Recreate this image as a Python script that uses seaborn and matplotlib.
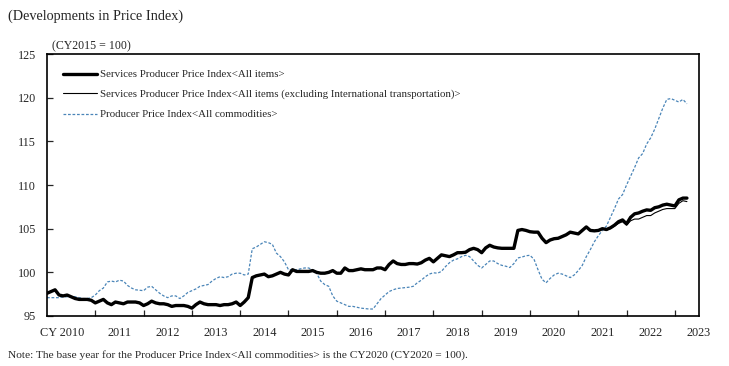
import numpy as np
import pandas as pd
import matplotlib
matplotlib.use("Agg")
import matplotlib.pyplot as plt
import seaborn as sns

# ---------------- data (monthly, Jan 2010 - Apr 2023) ----------------
years = ["CY 2010", "2011", "2012", "2013", "2014", "2015", "2016", "2017",
         "2018", "2019", "2020", "2021", "2022", "2023"]
yticks = [95, 100, 105, 110, 115, 120, 125]

sppi_all = [
    97.6, 97.8, 98.0, 97.4, 97.3, 97.4, 97.2, 97.0, 96.9, 96.9, 96.9, 96.8,
    96.5, 96.7, 96.9, 96.5, 96.3, 96.6, 96.5, 96.4, 96.6, 96.6, 96.6, 96.5,
    96.2, 96.4, 96.7, 96.5, 96.4, 96.4, 96.3, 96.1, 96.2, 96.2, 96.2, 96.1,
    95.9, 96.3, 96.6, 96.4, 96.3, 96.3, 96.3, 96.2, 96.3, 96.3, 96.4, 96.6,
    96.2, 96.6, 97.1, 99.4, 99.6, 99.7, 99.8, 99.5, 99.6, 99.8, 100.0, 99.8,
    99.7, 100.3, 100.1, 100.1, 100.1, 100.1, 100.2, 100.0, 99.9, 99.9, 100.0, 100.2,
    99.9, 99.9, 100.5, 100.2, 100.2, 100.3, 100.4, 100.3, 100.3, 100.3, 100.5, 100.5,
    100.3, 100.9, 101.3, 101.0, 100.9, 100.9, 101.0, 101.0, 100.95, 101.1, 101.4, 101.6,
    101.2, 101.6, 102.0, 101.9, 101.8, 102.0, 102.25, 102.25, 102.3, 102.6, 102.75, 102.6,
    102.25, 102.8, 103.1, 102.9, 102.8, 102.75, 102.75, 102.75, 102.75, 104.8, 104.9, 104.8,
    104.65, 104.6, 104.6, 103.9, 103.4, 103.7, 103.85, 103.9, 104.1, 104.3, 104.6, 104.5,
    104.4, 104.8, 105.2, 104.8, 104.75, 104.8, 105.0, 104.9, 105.1, 105.4, 105.8, 106.0,
    105.55, 106.3, 106.7, 106.8, 107.0, 107.15, 107.1, 107.4, 107.5, 107.7, 107.8, 107.7,
    107.6, 108.3, 108.5, 108.5,
]

sppi_excl = [
    97.6, 97.8, 98.0, 97.4, 97.3, 97.4, 97.2, 97.0, 96.9, 96.9, 96.9, 96.8,
    96.5, 96.7, 96.9, 96.5, 96.3, 96.6, 96.5, 96.4, 96.6, 96.6, 96.6, 96.5,
    96.2, 96.4, 96.7, 96.5, 96.4, 96.4, 96.3, 96.1, 96.2, 96.2, 96.2, 96.1,
    95.9, 96.3, 96.6, 96.4, 96.3, 96.3, 96.3, 96.2, 96.3, 96.3, 96.4, 96.6,
    96.2, 96.6, 97.1, 99.4, 99.6, 99.7, 99.8, 99.5, 99.6, 99.8, 100.0, 99.8,
    99.7, 100.3, 100.1, 100.1, 100.1, 100.1, 100.2, 100.0, 99.9, 99.9, 100.0, 100.2,
    99.9, 99.9, 100.5, 100.2, 100.2, 100.3, 100.4, 100.3, 100.3, 100.3, 100.5, 100.5,
    100.3, 100.9, 101.3, 101.0, 100.9, 100.9, 101.0, 101.0, 100.95, 101.1, 101.4, 101.6,
    101.2, 101.6, 102.0, 101.9, 101.8, 102.0, 102.25, 102.25, 102.3, 102.6, 102.75, 102.6,
    102.25, 102.8, 103.1, 102.9, 102.8, 102.75, 102.75, 102.75, 102.75, 104.8, 104.9, 104.8,
    104.65, 104.6, 104.6, 103.9, 103.4, 103.7, 103.85, 103.9, 104.1, 104.3, 104.6, 104.5,
    104.4, 104.8, 105.2, 104.8, 104.75, 104.8, 105.0, 104.85, 105.0, 105.3, 105.6, 105.8,
    105.4, 105.9, 106.1, 106.1, 106.3, 106.5, 106.5, 106.8, 107.0, 107.2, 107.3, 107.3,
    107.3, 107.9, 108.2, 108.1,
]

ppi_all = [
    97.1, 97.1, 97.1, 97.1, 97.2, 97.2, 97.2, 97.2, 97.1, 97.0, 97.0, 97.1,
    97.4, 97.9, 98.2, 98.9, 99.0, 98.9, 99.1, 99.0, 98.5, 98.2, 98.0, 97.95,
    97.9, 98.3, 98.4, 98.0, 97.6, 97.3, 97.1, 97.3, 97.3, 97.0, 97.3, 97.7,
    97.9, 98.1, 98.4, 98.5, 98.6, 99.0, 99.3, 99.5, 99.4, 99.5, 99.8, 99.9,
    99.9, 99.7, 99.8, 102.7, 102.9, 103.2, 103.5, 103.4, 103.2, 102.2, 101.8, 101.2,
    100.3, 100.3, 100.3, 100.4, 100.5, 100.5, 100.3, 99.9, 99.0, 98.6, 98.4, 97.3,
    96.7, 96.5, 96.3, 96.1, 96.1, 96.0, 95.9, 95.85, 95.8, 95.8, 96.4, 97.0,
    97.4, 97.8, 98.0, 98.15, 98.2, 98.25, 98.3, 98.4, 98.8, 99.1, 99.5, 99.8,
    99.95, 99.9, 100.1, 100.65, 101.1, 101.4, 101.55, 101.8, 101.95, 101.8, 101.3, 100.8,
    100.5, 100.9, 101.3, 101.3, 101.0, 100.8, 100.7, 100.55, 101.0, 101.65, 101.75, 101.9,
    101.95, 101.5, 100.3, 99.2, 98.8, 99.3, 99.7, 99.9, 99.8, 99.6, 99.4, 99.7,
    100.2, 100.8, 101.8, 102.6, 103.5, 104.2, 104.8, 105.3, 106.3, 107.3, 108.4, 108.9,
    110.0, 111.0, 112.0, 113.1, 113.6, 114.7, 115.4, 116.4, 117.6, 118.8, 119.8, 119.9,
    119.7, 119.5, 119.8, 119.3,
]

labels = [
    "Services Producer Price Index<All items>",
    "Services Producer Price Index<All items (excluding International transportation)>",
    "Producer Price Index<All commodities>",
]

# ---------------- figure ----------------
sns.set_style("ticks")
plt.rcParams["font.family"] = ["Liberation Serif", "DejaVu Serif"]

fig = plt.figure(figsize=(7.29, 3.66), dpi=100)
ax = fig.add_axes([47 / 729, 1 - 316 / 366, 652 / 729, 262 / 366])

month = np.arange(len(sppi_all))
df = pd.DataFrame({"month": month, "sppi": sppi_all, "excl": sppi_excl, "ppi": ppi_all})

sns.lineplot(data=df, x="month", y="ppi", ax=ax, color="#4a85b8", lw=0.9,
             linestyle=(0, (2.2, 1.4)), label=labels[2], zorder=2)
sns.lineplot(data=df, x="month", y="sppi", ax=ax, color="black", lw=2.4,
             label=labels[0], zorder=3)
sns.lineplot(data=df, x="month", y="excl", ax=ax, color="black", lw=0.8,
             label=labels[1], zorder=4)

ax.set_xlim(0, 161.4)
ax.set_ylim(95, 125)
ax.set_xlabel("")
ax.set_ylabel("")

# y axis
ax.set_yticks(yticks)
ax.set_yticklabels([str(v) for v in yticks], fontsize=8.7)
ax.tick_params(axis="y", direction="in", length=4, width=0.9, pad=8)

# x axis: ticks at year boundaries, labels in year middles
ax.set_xticks(np.arange(12, 157, 12))
ax.set_xticklabels([])
ax.set_xticks([3.7] + [12 * i + 6 for i in range(1, len(years))], minor=True)
ax.set_xticklabels(years, minor=True, fontsize=8.8)
ax.tick_params(axis="x", which="major", direction="in", length=4, width=0.9)
ax.tick_params(axis="x", which="minor", length=0, pad=8)

for s in ax.spines.values():
    s.set_visible(True)
    s.set_linewidth(1.2)
    s.set_color("black")

# legend in specific order
handles, labs = ax.get_legend_handles_labels()
order = [labs.index(l) for l in labels]
ax.legend([handles[i] for i in order], [labs[i] for i in order],
          loc="upper left", bbox_to_anchor=(0.0245, 0.94), frameon=False,
          fontsize=7.8, handlelength=3.1, handletextpad=0.3,
          labelspacing=0.95, borderpad=0, borderaxespad=0)

fig.text(8 / 729, 1 - 16 / 366, "(Developments in Price Index)", fontsize=10.3,
         ha="left", va="center")
fig.text(52 / 729, 1 - 46 / 366, "(CY2015 = 100)", fontsize=8.6,
         ha="left", va="center")
fig.text(8 / 729, 1 - 355 / 366,
         "Note: The base year for the Producer Price Index<All commodities> is the CY2020 (CY2020 = 100).",
         fontsize=8.2, ha="left", va="center")

fig.savefig("out.png", dpi=100)
